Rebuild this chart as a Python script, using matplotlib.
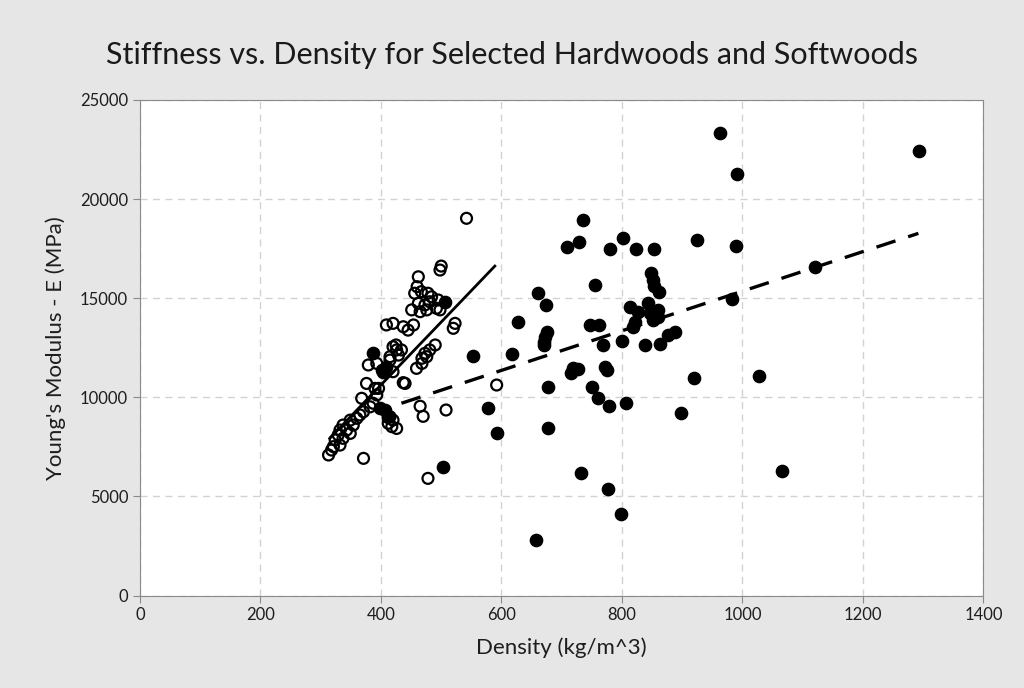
import matplotlib
matplotlib.use("Agg")
import matplotlib.pyplot as plt

# softwoods (open circles)
soft_density = [542, 500, 498, 462, 460, 456, 467, 478, 484, 495, 498, 451, 465, 462, 473,
                476, 481, 492, 523, 520, 409, 420, 437, 445, 454, 420, 426, 490, 481, 473,
                468, 459, 468, 476, 437, 379, 393, 415, 429, 434, 415, 425, 420, 440, 376,
                390, 393, 368, 387, 382, 371, 365, 360, 349, 354, 337, 343, 332, 329, 349,
                324, 337, 332, 321, 313, 318, 371, 415, 412, 418, 426, 420, 465, 470, 508,
                592, 478, 396]
soft_modulus = [19030, 16620, 16420, 16080, 15580, 15250, 15330, 15250, 15070, 14910, 14410,
                14410, 14320, 14740, 14660, 14410, 14820, 14490, 13730, 13480, 13650, 13730,
                13560, 13390, 13650, 12550, 12390, 12640, 12390, 12220, 11970, 11460, 11710,
                12050, 10740, 11630, 11710, 12050, 12130, 12390, 11880, 12640, 11290, 10700,
                10700, 10450, 10120, 9950, 9700, 9520, 9270, 9110, 8940, 8850, 8600, 8600,
                8350, 8350, 8100, 8180, 7850, 7930, 7590, 7510, 7090, 7340, 6920, 9020, 8690,
                8520, 8430, 8850, 9550, 9040, 9360, 10620, 5910, 10450]

# hardwoods (filled circles)
hard_density = [386, 401, 409, 404, 398, 407, 412, 506, 553, 617, 578, 592, 503, 661, 674,
                628, 675, 672, 670, 670, 678, 678, 736, 708, 729, 780, 801, 824, 854, 925,
                990, 962, 991, 1293, 755, 849, 851, 854, 861, 982, 813, 827, 843, 846, 860,
                860, 852, 822, 747, 762, 768, 800, 838, 863, 877, 888, 719, 727, 716, 772,
                775, 920, 1027, 751, 761, 778, 807, 898, 732, 777, 798, 658, 1065, 1120, 819]
hard_modulus = [12250, 11380, 11540, 11290, 9440, 9360, 9020, 14820, 12100, 12180, 9460, 8180,
                6500, 15250, 14680, 13810, 13310, 13060, 12800, 12640, 10530, 8450, 18940,
                17570, 17850, 17480, 18020, 17480, 17480, 17930, 17650, 23350, 21280, 22440,
                15660, 16250, 15920, 15620, 15330, 14950, 14570, 14320, 14740, 14240, 14400,
                14070, 13900, 13810, 13650, 13650, 12640, 12850, 12620, 12680, 13160, 13270,
                11460, 11410, 11210, 11540, 11380, 10990, 11070, 10530, 9950, 9560, 9730, 9190,
                6200, 5370, 4100, 2800, 6290, 16590, 13560]

# fitted lines, endpoints
soft_fit_x = [315, 589]
soft_fit_y = [7930, 16620]
hard_fit_x = [434, 1292]
hard_fit_y = [9700, 18270]

plt.rcParams['font.family'] = ['Lato', 'DejaVu Sans']

fig = plt.figure(figsize=(10.24, 6.88), dpi=100, facecolor='#e6e6e6')
ax = fig.add_axes([0.1367, 0.1344, 0.8237, 0.7203])
ax.set_facecolor('white')

ax.scatter(soft_density, soft_modulus, s=62, facecolors='none', edgecolors='black',
           linewidths=1.6, zorder=3)
ax.scatter(hard_density, hard_modulus, s=78, color='black', zorder=3)
ax.plot(soft_fit_x, soft_fit_y, color='black', lw=2, zorder=4)
ax.plot(hard_fit_x, hard_fit_y, color='black', lw=2.4, dashes=(6, 4), zorder=4)

ax.set_xlim(0, 1400)
ax.set_ylim(0, 25000)
ax.set_xticks(range(0, 1401, 200))
ax.set_yticks(range(0, 25001, 5000))
ax.grid(True, color='#d2d2d2', linestyle=(0, (5, 4)), lw=1)
ax.set_axisbelow(True)
for sp in ax.spines.values():
    sp.set_color('#8a8a8a')
ax.tick_params(colors='#8a8a8a', labelcolor='#1e1e1e', labelsize=12, length=5)

ax.set_xlabel('Density (kg/m^3)', fontsize=16, color='#1e1e1e', labelpad=10)
ax.set_ylabel("Young's Modulus - E (MPa)", fontsize=16, color='#1e1e1e', labelpad=10)
fig.suptitle('Stiffness vs. Density for Selected Hardwoods and Softwoods', fontsize=22,
             color='#1a1a1a', y=0.94)

fig.savefig('out.png', facecolor=fig.get_facecolor())
